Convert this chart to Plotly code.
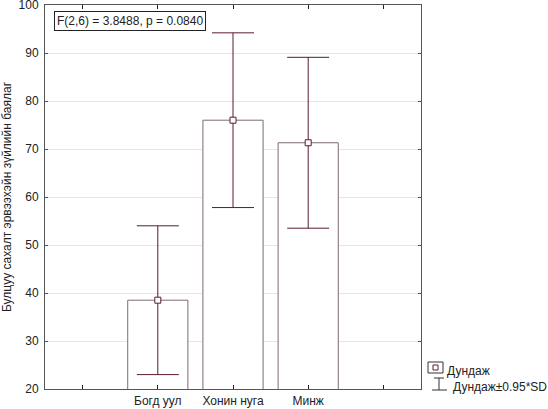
import plotly.graph_objects as go

# values
categories = ["Богд уул", "Хонин нуга", "Минж"]
positions = [1, 2, 3]
means = [38.5, 76.0, 71.3]
sd95 = [15.5, 18.2, 17.8]
y_ticks = [20, 30, 40, 50, 60, 70, 80, 90, 100]
stat_text = "F(2,6) = 3.8488, p = 0.0840"
legend_mean = "Дундаж"
legend_sd = "Дундаж±0.95*SD"
y_title = "Булцуу сахалт эрвээхэйн зүйлийн баялаг"

FONT = "Liberation Sans, Arial, sans-serif"
BAR_LINE = "#7d6c70"
ERR = "#5a1c2b"

# plot area in pixels: x 45..421, y 5..389
L, R, T, B = 45, 421, 5, 389


def px_x(p):
    return (p - L) / (R - L)


def px_y(p):
    return (B - p) / (B - T)


fig = go.Figure()

fig.add_trace(go.Bar(
    x=positions, y=means, width=0.8,
    marker=dict(color="white", line=dict(color=BAR_LINE, width=1)),
    hoverinfo="skip", showlegend=False,
))

fig.add_trace(go.Scatter(
    x=positions, y=means, mode="markers",
    marker=dict(symbol="square", size=6, color="white",
                line=dict(color=ERR, width=1)),
    error_y=dict(type="data", array=sd95, visible=True,
                 color=ERR, thickness=1, width=21),
    showlegend=False,
))

fig.add_annotation(
    xref="paper", yref="paper", x=px_x(54), y=px_y(21),
    xanchor="left", yanchor="middle", text=stat_text, showarrow=False,
    font=dict(size=12, color="#222"), bgcolor="white",
    bordercolor="#222", borderwidth=1, borderpad=2,
)

# hand-drawn legend at bottom right
shapes = [
    dict(type="rect", x0=px_x(428), x1=px_x(443), y0=px_y(373), y1=px_y(362),
         line=dict(color="#333", width=1)),
    dict(type="rect", x0=px_x(433), x1=px_x(438), y0=px_y(370), y1=px_y(365),
         line=dict(color=ERR, width=1)),
    dict(type="line", x0=px_x(434), x1=px_x(444), y0=px_y(378), y1=px_y(378),
         line=dict(color="#333", width=1)),
    dict(type="line", x0=px_x(439), x1=px_x(439), y0=px_y(378), y1=px_y(390),
         line=dict(color="#333", width=1)),
    dict(type="line", x0=px_x(432), x1=px_x(447), y0=px_y(390), y1=px_y(390),
         line=dict(color="#333", width=1)),
]
for s in shapes:
    s.update(xref="paper", yref="paper")
fig.update_layout(shapes=shapes)

fig.add_annotation(xref="paper", yref="paper", x=px_x(445), y=px_y(371),
                   xanchor="left", yanchor="middle", text=legend_mean,
                   showarrow=False, font=dict(size=12, color="#222"))
fig.add_annotation(xref="paper", yref="paper", x=px_x(451), y=px_y(387),
                   xanchor="left", yanchor="middle", text=legend_sd,
                   showarrow=False, font=dict(size=12, color="#222"))

fig.update_xaxes(
    range=[-0.5, 4.5], tickvals=[0, 1, 2, 3, 4],
    ticktext=[""] + categories + [""],
    ticks="inside", ticklen=4, tickcolor="#222",
    showline=True, linecolor="#555", linewidth=1, mirror="ticks",
    showgrid=False, zeroline=False,
    tickfont=dict(size=12, color="#222"),
    ticklabeloverflow="allow", ticklabelstandoff=1, automargin=False,
)
fig.update_yaxes(
    range=[20, 100], tickvals=y_ticks,
    ticks="inside", ticklen=3, tickcolor="#555",
    showline=True, linecolor="#555", linewidth=1, mirror="ticks",
    showgrid=True, gridcolor="#e6e6e6", gridwidth=1, zeroline=False,
    tickfont=dict(size=12, color="#222"),
    ticklabeloverflow="allow", ticklabelstandoff=3, automargin=False,
    title=dict(text=y_title, font=dict(size=12, color="#222"), standoff=8),
)

fig.update_layout(
    width=548, height=409,
    margin=dict(l=L, r=548 - R, t=T, b=409 - B),
    plot_bgcolor="white", paper_bgcolor="white",
    font=dict(family=FONT),
    bargap=0.2,
)

# the page has a default 8px body margin; drop it so the figure sits at 0,0
fig.write_html("out.html", config={"displayModeBar": False},
               post_script="document.body.style.margin='0';")
